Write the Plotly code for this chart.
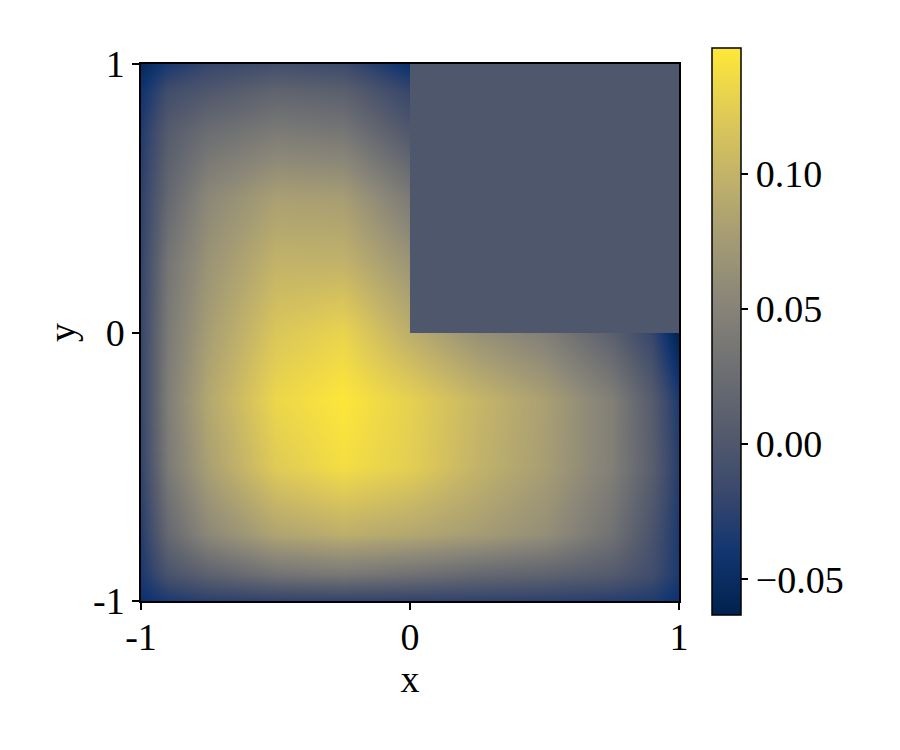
import plotly.graph_objects as go

# grid nodes (x, y) and values (rows run from y=-1 up to y=1)
xs = [-1, -0.9, -0.75, -0.5, -0.25, 0, 0.25, 0.5, 0.75, 0.9, 1]
ys = [-1, -0.9, -0.75, -0.5, -0.25, 0, 0.25, 0.5, 0.75, 0.9, 1]
u = [
    [-0.045, -0.035, -0.028, -0.025, -0.025, -0.025, -0.025, -0.027, -0.030, -0.033, -0.045],
    [-0.035, -0.005, 0.012, 0.032, 0.038, 0.030, 0.020, 0.014, 0.004, -0.012, -0.035],
    [-0.030, 0.020, 0.055, 0.085, 0.095, 0.088, 0.077, 0.062, 0.030, -0.005, -0.035],
    [-0.022, 0.040, 0.080, 0.122, 0.138, 0.125, 0.100, 0.078, 0.045, 0.008, -0.030],
    [-0.020, 0.044, 0.088, 0.132, 0.145, 0.127, 0.103, 0.080, 0.045, 0.005, -0.035],
    [-0.020, 0.040, 0.078, 0.118, 0.130, 0.095, 0.065, 0.045, 0.010, -0.020, -0.063],
    [-0.022, 0.035, 0.068, 0.100, 0.100, 0.070, 0.0, 0.0, 0.0, 0.0, 0.0],
    [-0.025, 0.020, 0.055, 0.080, 0.078, 0.040, 0.0, 0.0, 0.0, 0.0, 0.0],
    [-0.032, 0.005, 0.025, 0.040, 0.035, 0.000, 0.0, 0.0, 0.0, 0.0, 0.0],
    [-0.042, -0.012, 0.000, 0.015, 0.010, -0.020, 0.0, 0.0, 0.0, 0.0, 0.0],
    [-0.055, -0.035, -0.020, -0.010, -0.015, -0.045, 0.0, 0.0, 0.0, 0.0, 0.0],
]

# the cut-out quadrant [0,1]x[0,1] is held at zero
hole_x = [0, 1]
hole_y = [0, 1]
hole_u = [[0.0]]

cmin, cmax = -0.0632, 0.1465
cbar_ticks = [-0.05, 0.0, 0.05, 0.10]
cbar_text = ["\u22120.05", "0.00", "0.05", "0.10"]

font = "Liberation Serif"
fsize = 38

fig = go.Figure()
fig.add_trace(go.Heatmap(x=xs, y=ys, z=u, zsmooth="best", coloraxis="coloraxis",
                         hoverinfo="skip"))
fig.add_trace(go.Heatmap(x=hole_x, y=hole_y, z=hole_u, zsmooth=False,
                         coloraxis="coloraxis", hoverinfo="skip"))

axis_common = dict(
    showgrid=False, zeroline=False, showline=True, linecolor="black", linewidth=1.5,
    mirror=True, ticks="outside", ticklen=7, tickwidth=1.5, tickcolor="black",
    range=[-1, 1], tickvals=[-1, 0, 1], ticktext=["-1", "0", "1"],
    tickfont=dict(family=font, size=fsize, color="black"),
)

fig.update_layout(
    width=900, height=750,
    margin=dict(l=133, r=229, t=56, b=157),
    paper_bgcolor="white", plot_bgcolor="white",
    font=dict(family=font, color="black"),
    xaxis=dict(axis_common, ticklabelstandoff=-5,
               title=dict(text="x", font=dict(family=font, size=fsize), standoff=5)),
    yaxis=dict(axis_common, title=dict(text="y", font=dict(family=font, size=fsize), standoff=6)),
    coloraxis=dict(
        colorscale="Cividis", cmin=cmin, cmax=cmax,
        colorbar=dict(
            x=1.061, xanchor="left", xpad=0, y=0.502, yanchor="middle", ypad=0,
            len=1.056, lenmode="fraction", thickness=29,
            outlinecolor="black", outlinewidth=1.5,
            ticks="outside", ticklen=7, tickwidth=1.5, tickcolor="black",
            tickvals=cbar_ticks, ticktext=cbar_text,
            tickfont=dict(family=font, size=fsize, color="black"),
        ),
    ),
)

fig.write_html("out.html")
